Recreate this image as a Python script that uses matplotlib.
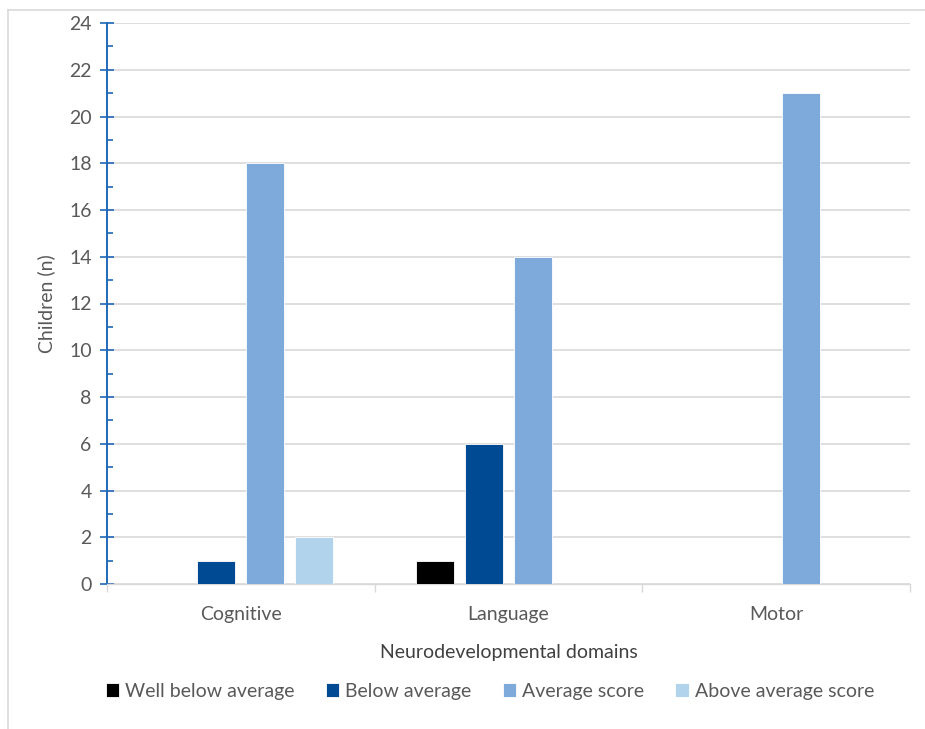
import numpy as np
import matplotlib.pyplot as plt
from matplotlib.lines import Line2D
from matplotlib.ticker import MultipleLocator, FixedLocator

plt.rcParams['font.family'] = ['Lato', 'DejaVu Sans']

# children per score band in each domain
domains = ['Cognitive', 'Language', 'Motor']
well_below = [0, 1, 0]
below = [1, 6, 0]
average = [18, 14, 21]
above = [2, 0, 0]

series = [
    ('Well below average', well_below, '#000000'),
    ('Below average', below, '#004A94'),
    ('Average score', average, '#7EA9DB'),
    ('Above average score', above, '#B2D3EC'),
]

text_gray = '#595959'
grid_gray = '#D9D9D9'
axis_blue = '#1F68B8'
fs = 14

fig = plt.figure(figsize=(9.25, 7.29), dpi=100)
ax = fig.add_axes([107 / 925, 1 - 584 / 729, 803 / 925, 561 / 729])

x = np.arange(len(domains))
slot = 0.183
width = 0.142
for i, (name, vals, col) in enumerate(series):
    ax.bar(x + (i - 1.5) * slot, vals, width, color=col, label=name,
           edgecolor='white', linewidth=0.6, zorder=3)

ax.set_xlim(-0.5, 2.5)
ax.set_ylim(0, 24)

# y axis: blue line, crossing major ticks, small inner minor ticks
ax.yaxis.set_major_locator(MultipleLocator(2))
ax.yaxis.set_minor_locator(MultipleLocator(1))
ax.tick_params(axis='y', which='major', direction='inout', length=10,
               width=1.2, color=axis_blue, labelcolor=text_gray,
               labelsize=fs, pad=6)
ax.tick_params(axis='y', which='minor', direction='in', length=4,
               width=1.2, color=axis_blue)
ax.spines['left'].set_color(axis_blue)
ax.spines['left'].set_linewidth(1.4)

# x axis: category labels with boundary ticks between groups
ax.set_xticks(x)
ax.set_xticklabels(domains)
ax.xaxis.set_minor_locator(FixedLocator([-0.5, 0.5, 1.5, 2.5]))
ax.tick_params(axis='x', which='major', length=0, labelcolor=text_gray,
               labelsize=fs, pad=16)
ax.tick_params(axis='x', which='minor', direction='out', length=6,
               width=1, color=grid_gray)
ax.spines['bottom'].set_color(grid_gray)
ax.spines['bottom'].set_linewidth(1)
ax.spines['top'].set_visible(False)
ax.spines['right'].set_visible(False)

ax.yaxis.grid(True, color=grid_gray, linewidth=1.2, zorder=0)
ax.set_axisbelow(True)

ax.set_ylabel('Children (n)', color=text_gray, fontsize=fs, labelpad=10)
ax.set_xlabel('Neurodevelopmental domains', color='#404040', fontsize=fs,
              labelpad=15)

leg = ax.legend(loc='center', bbox_to_anchor=(490 / 925, 1 - 691 / 729),
                bbox_transform=fig.transFigure, ncol=4, frameon=False,
                fontsize=fs, handlelength=0.7, handleheight=0.7,
                handletextpad=0.3, columnspacing=1.6)
for t in leg.get_texts():
    t.set_color(text_gray)

# light frame round the chart area
fig.add_artist(Line2D([8 / 925, 8 / 925], [0, 1 - 10 / 729],
                      color='#D9D9D9', linewidth=1.2))
fig.add_artist(Line2D([8 / 925, 1], [1 - 10 / 729, 1 - 10 / 729],
                      color='#D9D9D9', linewidth=1.2))

fig.savefig('out.png', dpi=100)
